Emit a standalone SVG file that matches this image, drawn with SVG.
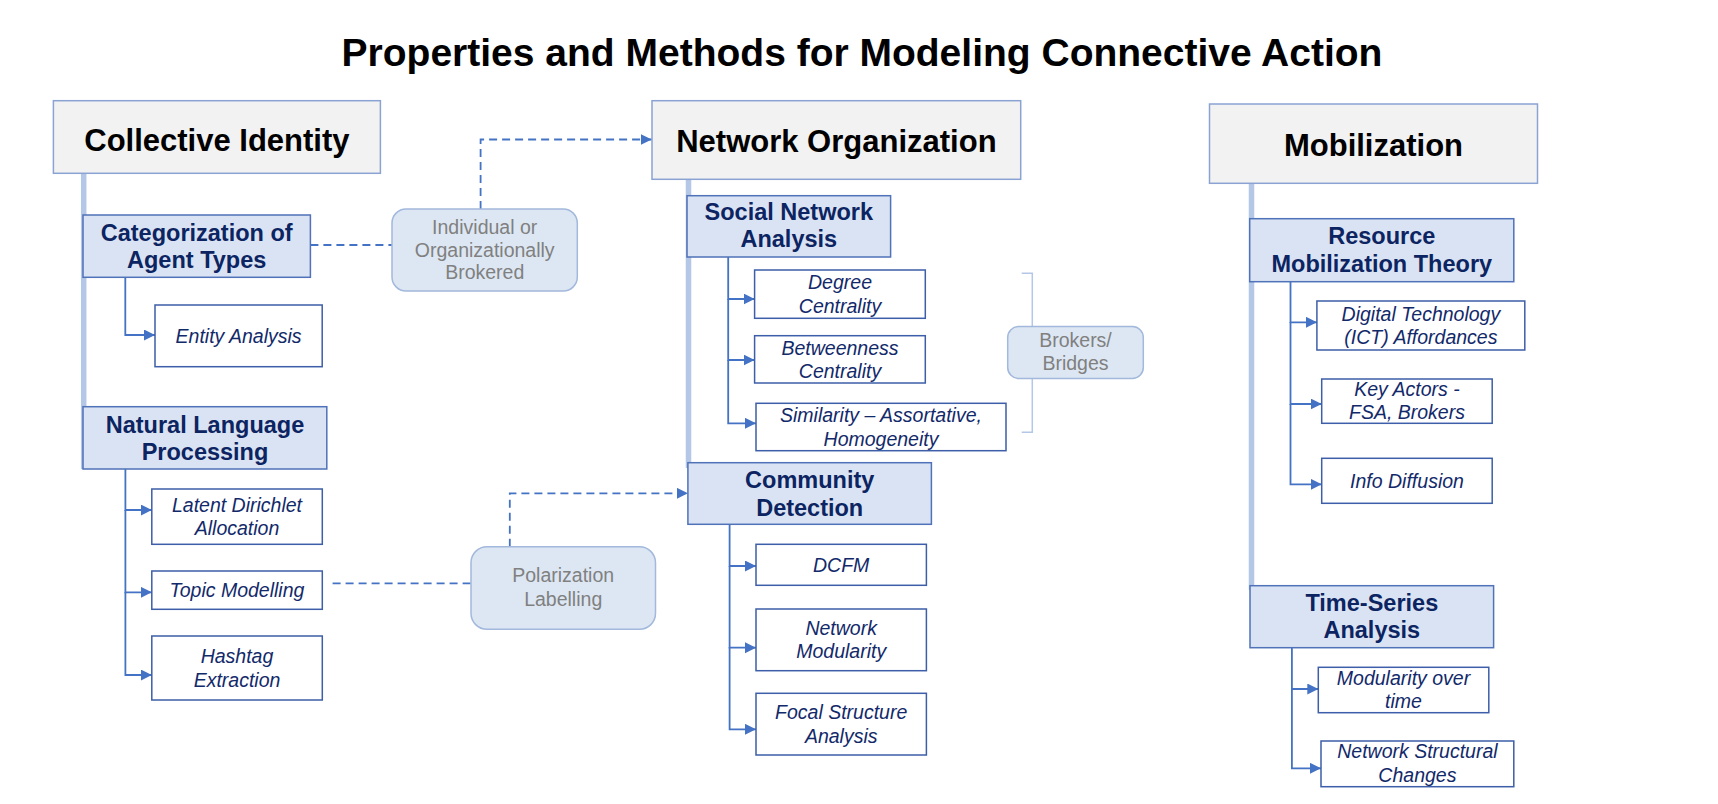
<svg xmlns="http://www.w3.org/2000/svg" width="1718" height="804" viewBox="0 0 1718 804">
<style>
text{font-family:"Liberation Sans",Arial,sans-serif;text-anchor:middle}
.title{font-size:39px;font-weight:bold;fill:#000}
.hdr rect{fill:#f2f2f2;stroke:#8aa3d2;stroke-width:1.5}
.hdr text{font-size:31px;font-weight:bold;fill:#000}
.sub rect{fill:#dae3f3;stroke:#4f72b8;stroke-width:1.5}
.sub text{font-size:23.5px;font-weight:bold;fill:#0c2461}
.leaf rect{fill:#fff;stroke:#3d5ea8;stroke-width:1.5}
.leaf text{font-size:19.5px;font-style:italic;fill:#12296a}
.gray rect{fill:#dde7f3;stroke:#a2b8dc;stroke-width:1.5}
.gray text{font-size:19.5px;fill:#808080}
.trunk{stroke:#b4c7e7;stroke-width:5.5;fill:none}
.br{stroke:#4472c4;stroke-width:1.8;fill:none}
.dash{stroke:#4472c4;stroke-width:1.8;fill:none;stroke-dasharray:8 5}
.brk{stroke:#b4c7e7;stroke-width:1.5;fill:none}
</style>
<defs>
<marker id="ah" markerUnits="userSpaceOnUse" markerWidth="12" markerHeight="12" refX="11" refY="5.5" orient="auto">
<path d="M0,0 L11,5.5 L0,11 z" fill="#4472c4"/>
</marker>
</defs>
<rect width="1718" height="804" fill="#fff"/>
<text class="title" x="862" y="66">Properties and Methods for Modeling Connective Action</text>

<g id="connectors">
<path class="trunk" d="M83.7,173 V469"/>
<path class="trunk" d="M688.5,179 V468"/>
<path class="trunk" d="M1251.5,183 V590"/>
<path class="br" d="M125.3,277.3 V335 H155" marker-end="url(#ah)"/>
<path class="br" d="M125.4,469 V510 H151.8" marker-end="url(#ah)"/>
<path class="br" d="M125.4,510 V592.3 H151.8" marker-end="url(#ah)"/>
<path class="br" d="M125.4,592 V675 H151.8" marker-end="url(#ah)"/>
<path class="br" d="M728.2,257 V299 H754.6" marker-end="url(#ah)"/>
<path class="br" d="M728.2,299 V360 H754.6" marker-end="url(#ah)"/>
<path class="br" d="M728.2,360 V423.3 H756" marker-end="url(#ah)"/>
<path class="br" d="M729.6,524.3 V566 H756" marker-end="url(#ah)"/>
<path class="br" d="M729.6,566 V647.7 H756" marker-end="url(#ah)"/>
<path class="br" d="M729.6,647 V729.3 H756" marker-end="url(#ah)"/>
<path class="br" d="M1290.5,281.7 V322.3 H1317" marker-end="url(#ah)"/>
<path class="br" d="M1290.5,322 V404 H1321.7" marker-end="url(#ah)"/>
<path class="br" d="M1290.5,404 V484.3 H1321.7" marker-end="url(#ah)"/>
<path class="br" d="M1291.9,647.7 V689 H1318.3" marker-end="url(#ah)"/>
<path class="br" d="M1291.9,689 V768.3 H1321" marker-end="url(#ah)"/>
<path class="dash" d="M310.4,245 H392"/>
<path class="dash" d="M480.6,209 V139.5 H651.7" marker-end="url(#ah)"/>
<path class="dash" d="M332.6,583.3 H471"/>
<path class="dash" d="M509.8,546.7 V493.3 H687.9" marker-end="url(#ah)"/>
<path class="brk" d="M1021.7,273.3 H1032.3 V432.3 H1021.7"/>
</g>

<g id="collective-identity" class="hdr">
<rect x="53.4" y="100.7" width="327" height="72.6"/>
<text x="216.9" y="150.5">Collective Identity</text>
</g>
<g id="network-organization" class="hdr">
<rect x="652" y="100.7" width="368.7" height="78.6"/>
<text x="836.4" y="151.5">Network Organization</text>
</g>
<g id="mobilization" class="hdr">
<rect x="1209.5" y="104" width="328" height="79.3"/>
<text x="1373.5" y="156">Mobilization</text>
</g>

<g id="categorization" class="sub">
<rect x="83" y="215" width="227.4" height="62.3"/>
<text x="196.7" y="240.5">Categorization of</text>
<text x="196.7" y="268">Agent Types</text>
</g>
<g id="nlp" class="sub">
<rect x="83" y="406.7" width="243.8" height="62.3"/>
<text x="205" y="433">Natural Language</text>
<text x="205" y="460.3">Processing</text>
</g>
<g id="sna" class="sub">
<rect x="687" y="195.7" width="203.6" height="61.3"/>
<text x="788.8" y="220">Social Network</text>
<text x="788.8" y="247.3">Analysis</text>
</g>
<g id="community-detection" class="sub">
<rect x="687.9" y="462.7" width="243.5" height="61.6"/>
<text x="809.7" y="488.3">Community</text>
<text x="809.7" y="515.7">Detection</text>
</g>
<g id="rmt" class="sub">
<rect x="1249.7" y="218.7" width="264.1" height="63"/>
<text x="1381.8" y="244">Resource</text>
<text x="1381.8" y="271.7">Mobilization Theory</text>
</g>
<g id="time-series" class="sub">
<rect x="1250" y="585.7" width="243.6" height="62"/>
<text x="1371.8" y="611">Time-Series</text>
<text x="1371.8" y="638.3">Analysis</text>
</g>

<g id="entity-analysis" class="leaf">
<rect x="155" y="305" width="167.2" height="61.7"/>
<text x="238.6" y="343">Entity Analysis</text>
</g>
<g id="lda" class="leaf">
<rect x="151.8" y="489" width="170.5" height="55.3"/>
<text x="237" y="511.7">Latent Dirichlet</text>
<text x="237" y="535">Allocation</text>
</g>
<g id="topic-modelling" class="leaf">
<rect x="151.8" y="571" width="170.5" height="38.3"/>
<text x="237" y="597">Topic Modelling</text>
</g>
<g id="hashtag-extraction" class="leaf">
<rect x="151.8" y="636" width="170.5" height="64"/>
<text x="237" y="663.3">Hashtag</text>
<text x="237" y="686.7">Extraction</text>
</g>
<g id="degree-centrality" class="leaf">
<rect x="754.6" y="270" width="170.7" height="48.3"/>
<text x="840" y="289.3">Degree</text>
<text x="840" y="312.7">Centrality</text>
</g>
<g id="betweenness-centrality" class="leaf">
<rect x="754.6" y="335.7" width="170.7" height="47.3"/>
<text x="840" y="355">Betweenness</text>
<text x="840" y="378.3">Centrality</text>
</g>
<g id="similarity" class="leaf">
<rect x="756" y="403.3" width="250" height="47.4"/>
<text x="881" y="422.3">Similarity – Assortative,</text>
<text x="881" y="445.7">Homogeneity</text>
</g>
<g id="dcfm" class="leaf">
<rect x="756" y="544.3" width="170.4" height="41"/>
<text x="841.2" y="571.7">DCFM</text>
</g>
<g id="network-modularity" class="leaf">
<rect x="756" y="609" width="170.4" height="61.7"/>
<text x="841.2" y="635">Network</text>
<text x="841.2" y="658.3">Modularity</text>
</g>
<g id="focal-structure" class="leaf">
<rect x="756" y="693.3" width="170.4" height="61.7"/>
<text x="841.2" y="719.3">Focal Structure</text>
<text x="841.2" y="742.7">Analysis</text>
</g>
<g id="digital-technology" class="leaf">
<rect x="1316.9" y="301" width="207.9" height="49"/>
<text x="1420.9" y="320.7">Digital Technology</text>
<text x="1420.9" y="344">(ICT) Affordances</text>
</g>
<g id="key-actors" class="leaf">
<rect x="1321.7" y="379" width="170.5" height="44.3"/>
<text x="1407" y="396">Key Actors -</text>
<text x="1407" y="419.3">FSA, Brokers</text>
</g>
<g id="info-diffusion" class="leaf">
<rect x="1321.7" y="458.3" width="170.5" height="45"/>
<text x="1407" y="487.7">Info Diffusion</text>
</g>
<g id="modularity-over-time" class="leaf">
<rect x="1318.3" y="667.3" width="170.5" height="45.4"/>
<text x="1403.5" y="685">Modularity over</text>
<text x="1403.5" y="708.3">time</text>
</g>
<g id="network-structural-changes" class="leaf">
<rect x="1321" y="741" width="192.8" height="45.7"/>
<text x="1417.4" y="758.3">Network Structural</text>
<text x="1417.4" y="781.7">Changes</text>
</g>

<g id="brokered" class="gray">
<rect x="392" y="209" width="185.3" height="82" rx="14"/>
<text x="484.7" y="234">Individual or</text>
<text x="484.7" y="256.7">Organizationally</text>
<text x="484.7" y="279.3">Brokered</text>
</g>
<g id="polarization" class="gray">
<rect x="471" y="546.7" width="184.5" height="82.6" rx="16"/>
<text x="563.2" y="581.7">Polarization</text>
<text x="563.2" y="606">Labelling</text>
</g>
<g id="brokers-bridges" class="gray">
<rect x="1007.7" y="326.5" width="135.6" height="52" rx="11"/>
<text x="1075.5" y="346.7">Brokers/</text>
<text x="1075.5" y="370">Bridges</text>
</g>
</svg>
